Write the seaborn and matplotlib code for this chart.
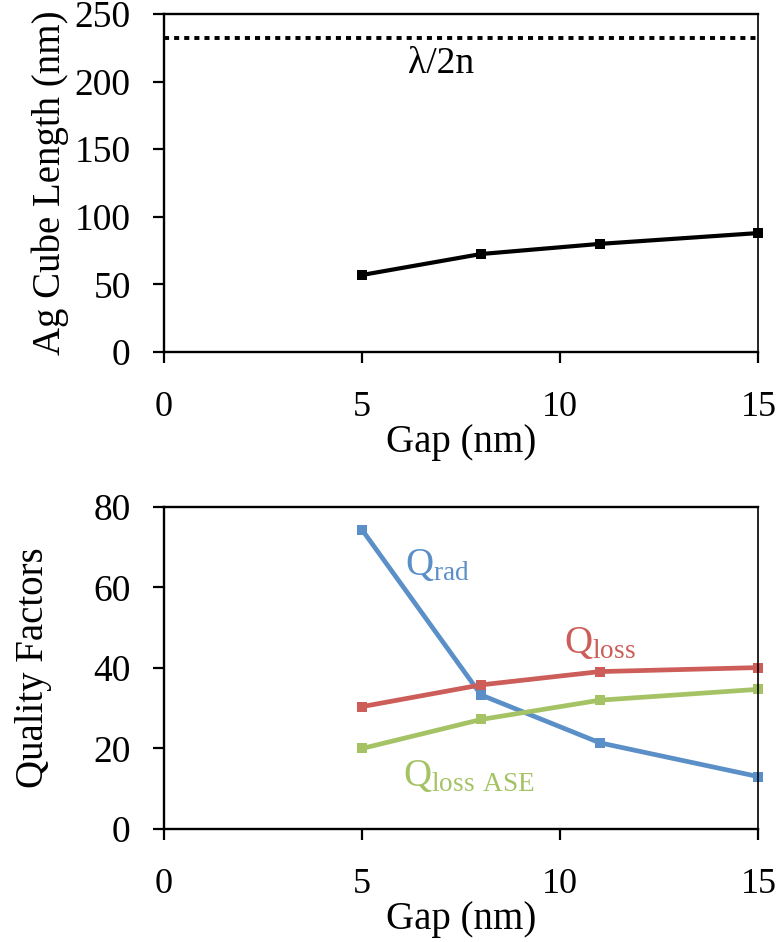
import numpy as np
import matplotlib
matplotlib.use("Agg")
import matplotlib.pyplot as plt
import seaborn as sns
import pandas as pd

# data
gap = [5, 8, 11, 15]
cube_length = [57, 72.5, 80, 88]
half_wavelength = 232
q_rad = [74.3, 33.3, 21.4, 13.0]
q_loss = [30.4, 35.8, 39.1, 40.1]
q_loss_ase = [20.0, 27.2, 32.0, 34.7]

series_names = ["rad", "loss", "loss ASE"]
colors = {"rad": "#5B8FC7", "loss": "#CC5D58", "loss ASE": "#A5C365"}

sns.set_style("ticks")
plt.rcParams["font.family"] = ["Liberation Serif", "DejaVu Serif"]
plt.rcParams["mathtext.fontset"] = "custom"
plt.rcParams["mathtext.rm"] = "Liberation Serif"
plt.rcParams["text.color"] = "black"
plt.rcParams["axes.labelcolor"] = "black"
plt.rcParams["xtick.color"] = "black"
plt.rcParams["ytick.color"] = "black"

TICK_FS = 27
LABEL_FS = 28

fig = plt.figure(figsize=(7.8, 9.42), dpi=100)
ax1 = fig.add_axes([0.2103, 0.6263, 0.762, 0.3588])
ax2 = fig.add_axes([0.2103, 0.12, 0.762, 0.3418])

# top panel
df_top = pd.DataFrame({"gap": gap, "length": cube_length})
sns.lineplot(data=df_top, x="gap", y="length", ax=ax1, color="black", lw=3.0,
             marker="s", markersize=7.5, markeredgewidth=0, clip_on=False)
ax1.axhline(half_wavelength, color="black", lw=2.8, ls=(0, (1.3, 1.3)))
ax1.text(7.0, 213, "λ/2n", fontsize=TICK_FS, ha="center", va="center")
ax1.set_ylim(0, 250)
ax1.set_yticks(np.arange(0, 251, 50))
ax1.set_ylabel("Ag Cube Length (nm)", fontsize=LABEL_FS, labelpad=4)

# bottom panel
df_q = pd.DataFrame({
    "gap": gap * 3,
    "Q": q_rad + q_loss + q_loss_ase,
    "kind": [s for s in series_names for _ in gap],
})
sns.lineplot(data=df_q, x="gap", y="Q", hue="kind", palette=colors, ax=ax2,
             lw=3.4, marker="s", markersize=7.5, markeredgewidth=0,
             legend=False, clip_on=False)
ax2.text(6.9, 65.5, r"$\mathregular{Q_{rad}}$", color=colors["rad"], fontsize=LABEL_FS,
         ha="center", va="center")
ax2.text(11.0, 46, r"$\mathregular{Q_{loss}}$", color=colors["loss"], fontsize=LABEL_FS,
         ha="center", va="center")
ax2.text(7.7, 13, r"$\mathregular{Q_{loss\ ASE}}$", color=colors["loss ASE"],
         fontsize=LABEL_FS, ha="center", va="center")
ax2.set_ylim(0, 80)
ax2.set_yticks(np.arange(0, 81, 20))
ax2.set_ylabel("Quality Factors", fontsize=LABEL_FS, labelpad=30)

for ax in (ax1, ax2):
    ax.set_xlim(0, 15)
    ax.set_xticks([0, 5, 10, 15])
    ax.set_xlabel("Gap (nm)", fontsize=LABEL_FS, labelpad=0)
    ax.tick_params(axis="both", labelsize=TICK_FS, width=1.6, length=8, direction="out")
    ax.tick_params(axis="x", pad=20, labelsize=TICK_FS - 1)
    ax.tick_params(axis="y", pad=16)
    for side in ["left", "bottom", "top"]:
        ax.spines[side].set_linewidth(1.7)
    ax.spines["right"].set_linewidth(1.2)
    for side in ax.spines:
        ax.spines[side].set_visible(True)
        ax.spines[side].set_color("black")

fig.savefig("out.png", dpi=100)
